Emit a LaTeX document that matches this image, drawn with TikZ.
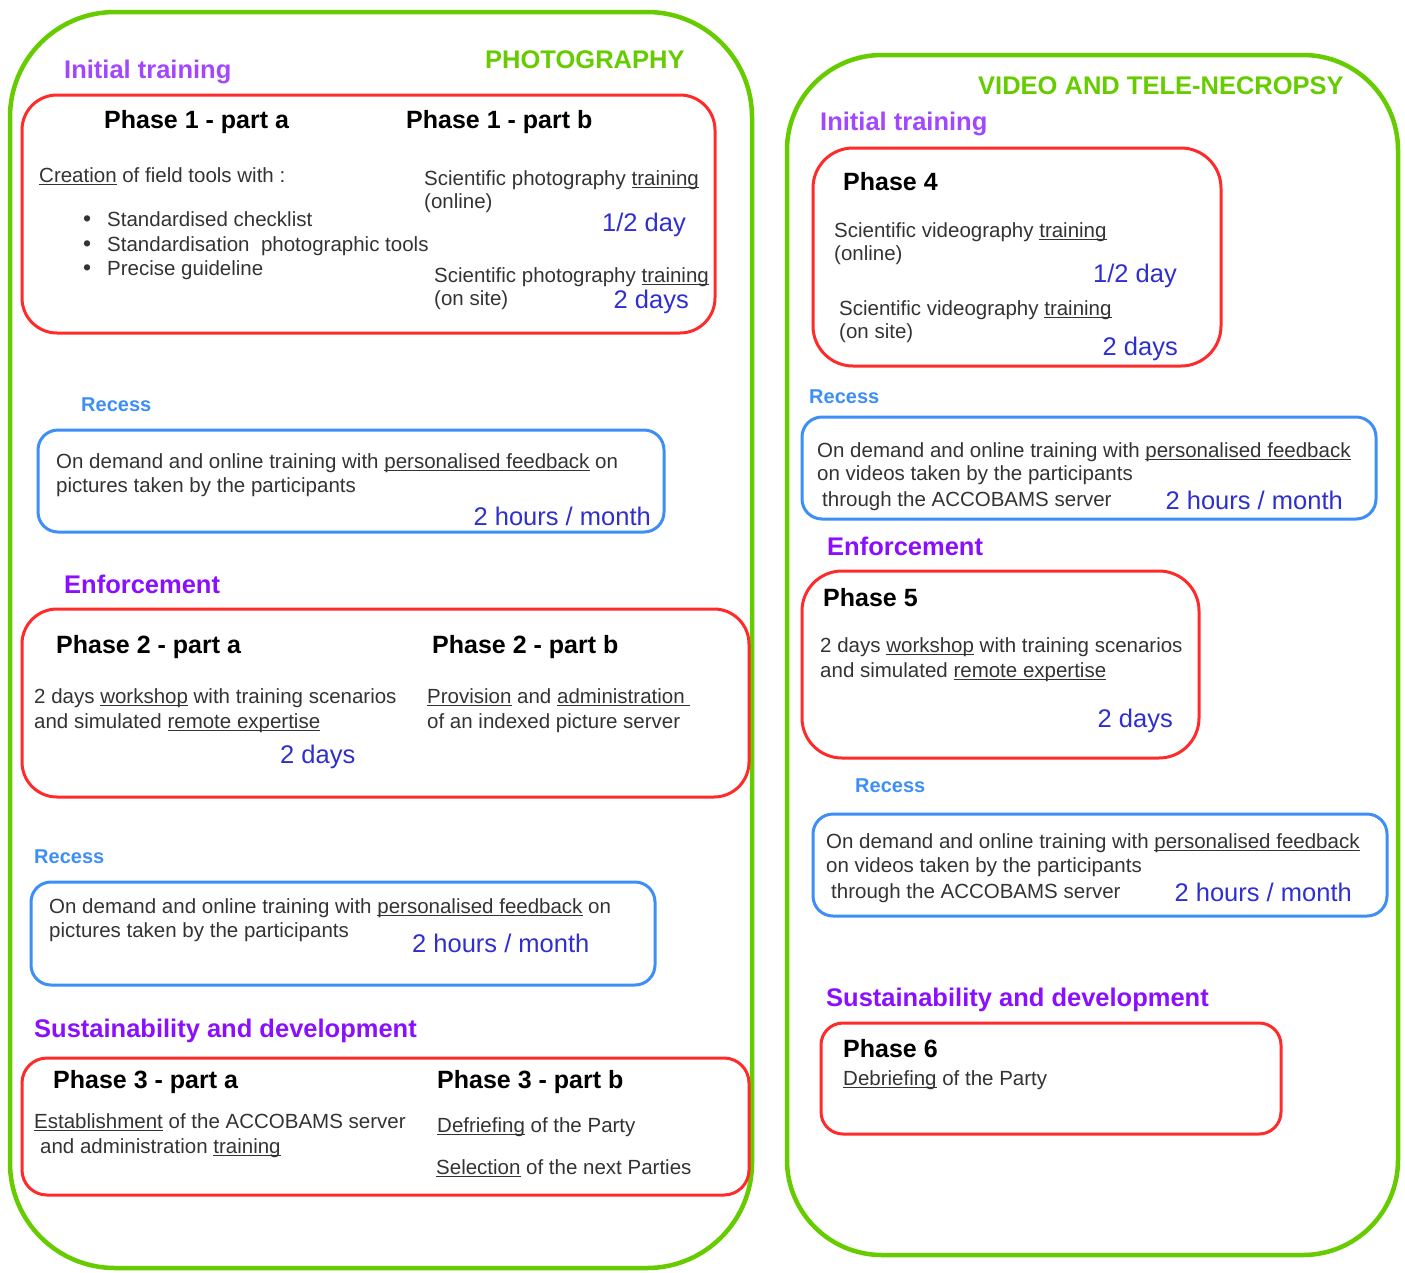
\documentclass[tikz,border=0pt]{standalone}
\usepackage{fontspec}
\setmainfont{Liberation Sans}
\usepackage{xcolor}
\usepackage{tikz}

\definecolor{framegreen}{HTML}{66CC00}
\definecolor{phasered}{HTML}{FF2B2B}
\definecolor{recessblue}{HTML}{3D8EF7}
\definecolor{stagepurple}{HTML}{8A0FFF}
\definecolor{stagelilac}{HTML}{A347FF}
\definecolor{durblue}{HTML}{2F2FD0}
\definecolor{bodygray}{HTML}{333333}

% underlined words, rule just under the baseline
\newcommand{\undl}[1]{\setbox0\hbox{#1}\rlap{\rule[-2.6pt]{\wd0}{0.9pt}}\box0\relax}

\begin{document}
\begin{tikzpicture}[x=1pt,y=-1pt,
  frame/.style={draw=framegreen,line width=4.5pt},
  phasebox/.style={draw=phasered,line width=3pt},
  recessbox/.style={draw=recessblue,line width=3pt,rounded corners=20pt},
  txt/.style={anchor=base west,inner sep=0pt,text=bodygray,font=\fontsize{20.5}{24}\selectfont},
  head/.style={anchor=base west,inner sep=0pt,text=black,font=\fontsize{25}{28}\selectfont\bfseries},
  stage/.style={anchor=base west,inner sep=0pt,text=stagepurple,font=\fontsize{25.5}{30}\selectfont\bfseries},
  title/.style={anchor=base west,inner sep=0pt,text=framegreen,font=\fontsize{25.5}{30}\selectfont\bfseries},
  recess/.style={anchor=base west,inner sep=0pt,text=recessblue,font=\fontsize{20}{24}\selectfont\bfseries},
  dur/.style={anchor=base east,inner sep=0pt,text=durblue,font=\fontsize{25.5}{30}\selectfont}]

\useasboundingbox (0,0) rectangle (1405,1272);

% Frames
\draw[frame,rounded corners=105pt] (10,12) rectangle (752,1268);
\draw[frame,rounded corners=95pt] (787,55) rectangle (1398,1255);

%%% PHOTOGRAPHY
\node[title] (photoTitle) at (485,68) {PHOTOGRAPHY};
\node[stage,text=stagelilac] (photoInit) at (64,78) {Initial training};

% Phase 1
\draw[phasebox,rounded corners=35pt] (22,95) rectangle (715,333);
\node[head] (p1aHead) at (104,128) {Phase 1 - part a};
\node[head] (p1bHead) at (406,128) {Phase 1 - part b};
\node[txt] (p1aText) at (39,182) {\undl{Creation} of field tools with :};
\foreach \y/\item [count=\i] in {226/Standardised checklist,251/Standardisation\ \ photographic tools,275/Precise guideline} {
  \node[txt,font=\fontsize{23}{24}\selectfont] (p1aDot\i) at (83,\y) {•};
  \node[txt] (p1aItem\i) at (107,\y) {\item};
}
\node[txt] (p1bOnline) at (424,185) {Scientific photography \undl{training}};
\node[txt] (p1bOnline2) at (424,208) {(online)};
\node[dur] (p1bHalf) at (686,231) {1/2 day};
\node[txt] (p1bSite) at (434,282) {Scientific photography \undl{training}};
\node[txt] (p1bSite2) at (434,305) {(on site)};
\node[dur] (p1bDays) at (689,308) {2 days};

% Recess 1
\node[recess] (photoRecA) at (81,411) {Recess};
\draw[recessbox] (38,430) rectangle (664,532);
\node[txt] (recAText) at (56,468) {On demand and online training with \undl{personalised feedback} on};
\node[txt] (recAText2) at (56,492) {pictures taken by the participants};
\node[dur] (recAHours) at (651,525) {2 hours / month};

% Phase 2
\node[stage] (photoEnf) at (64,593) {Enforcement};
\draw[phasebox,rounded corners=35pt] (22,609) rectangle (749,797);
\node[head] (p2aHead) at (56,653) {Phase 2 - part a};
\node[head] (p2bHead) at (432,653) {Phase 2 - part b};
\node[txt] (p2aText) at (34,703) {2 days \undl{workshop} with training scenarios};
\node[txt] (p2aText2) at (34,728) {and simulated \undl{remote expertise}};
\node[dur,anchor=base west] (p2aDays) at (280,763) {2 days};
\node[txt] (p2bText) at (427,703) {\undl{Provision} and \undl{administration\ }};
\node[txt] (p2bText2) at (427,728) {of an indexed picture server};

% Recess 2
\node[recess] (photoRecB) at (34,863) {Recess};
\draw[recessbox] (31,882) rectangle (655,985);
\node[txt] (recBText) at (49,913) {On demand and online training with \undl{personalised feedback} on};
\node[txt] (recBText2) at (49,937) {pictures taken by the participants};
\node[dur,anchor=base west] (recBHours) at (412,952) {2 hours / month};

% Phase 3
\node[stage] (photoSus) at (34,1037) {Sustainability and development};
\draw[phasebox,rounded corners=25pt] (22,1058) rectangle (749,1195);
\node[head] (p3aHead) at (53,1088) {Phase 3 - part a};
\node[head] (p3bHead) at (437,1088) {Phase 3 - part b};
\node[txt] (p3aText) at (34,1128) {\undl{Establishment} of the ACCOBAMS server};
\node[txt] (p3aText2) at (40,1153) {and administration \undl{training}};
\node[txt] (p3bText) at (437,1132) {\undl{Defriefing} of the Party};
\node[txt] (p3bText2) at (436,1174) {\undl{Selection} of the next Parties};

%%% VIDEO AND TELE-NECROPSY
\node[title] (videoTitle) at (978,94) {VIDEO AND TELE-NECROPSY};
\node[stage,text=stagelilac] (videoInit) at (820,130) {Initial training};

% Phase 4
\draw[phasebox,rounded corners=40pt] (813,148) rectangle (1221,366);
\node[head] (p4Head) at (843,190) {Phase 4};
\node[txt] (p4Online) at (834,237) {Scientific videography \undl{training}};
\node[txt] (p4Online2) at (834,260) {(online)};
\node[dur] (p4Half) at (1177,282) {1/2 day};
\node[txt] (p4Site) at (839,315) {Scientific videography \undl{training}};
\node[txt] (p4Site2) at (839,338) {(on site)};
\node[dur] (p4Days) at (1178,355) {2 days};

% Recess 3
\node[recess] (videoRecA) at (809,403) {Recess};
\draw[recessbox] (802,417) rectangle (1376,519);
\node[txt] (recCText) at (817,457) {On demand and online training with \undl{personalised feedback}};
\node[txt] (recCText2) at (817,480) {on videos taken by the participants};
\node[txt] (recCText3) at (822,506) {through the ACCOBAMS server};
\node[dur] (recCHours) at (1343,509) {2 hours / month};

% Phase 5
\node[stage] (videoEnf) at (827,555) {Enforcement};
\draw[phasebox,rounded corners=40pt] (802,571) rectangle (1199,758);
\node[head] (p5Head) at (823,606) {Phase 5};
\node[txt] (p5Text) at (820,652) {2 days \undl{workshop} with training scenarios};
\node[txt] (p5Text2) at (820,677) {and simulated \undl{remote expertise}};
\node[dur] (p5Days) at (1173,727) {2 days};

% Recess 4
\node[recess] (videoRecB) at (855,792) {Recess};
\draw[recessbox] (813,814) rectangle (1387,916);
\node[txt] (recDText) at (826,848) {On demand and online training with \undl{personalised feedback}};
\node[txt] (recDText2) at (826,872) {on videos taken by the participants};
\node[txt] (recDText3) at (831,898) {through the ACCOBAMS server};
\node[dur] (recDHours) at (1352,901) {2 hours / month};

% Phase 6
\node[stage] (videoSus) at (826,1006) {Sustainability and development};
\draw[phasebox,rounded corners=22pt] (821,1023) rectangle (1281,1134);
\node[head] (p6Head) at (843,1057) {Phase 6};
\node[txt] (p6Text) at (843,1085) {\undl{Debriefing} of the Party};
\end{tikzpicture}
\end{document}
